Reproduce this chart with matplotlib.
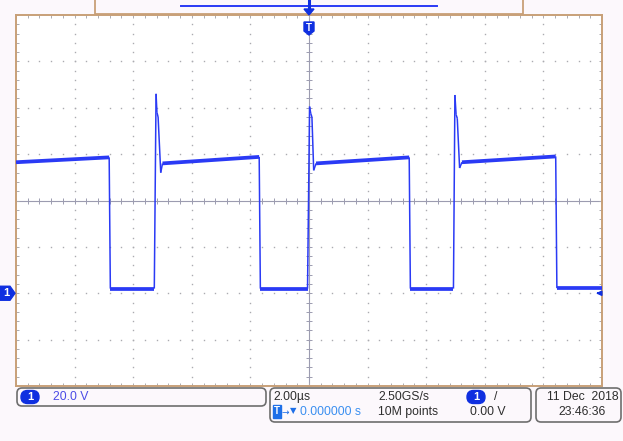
import numpy as np
import matplotlib
matplotlib.use("Agg")
import matplotlib.pyplot as plt
from matplotlib import transforms
from matplotlib.patches import FancyBboxPatch, Polygon, Rectangle
from matplotlib.collections import LineCollection

volts_per_div = 20.0          # V/div
time_per_div = 2.0            # us/div
ground_div = -2.0             # ground marker position (divisions from centre)

wave_t_us = [-10.0, -6.82, -6.78, -5.28,
             -5.22, -5.19, -5.15, -5.06, -5.00, -1.70, -1.66, -0.05,
             0.02, 0.06, 0.10, 0.16, 0.24, 3.42, 3.46, 4.93,
             4.98, 5.02, 5.06, 5.14, 5.22, 8.42, 8.46, 10.0]
wave_v = [56.5, 58.6, 2.0, 2.0,
          86.0, 78.0, 76.0, 52.0, 56.0, 58.8, 2.0, 2.0,
          80.5, 77.5, 76.0, 53.0, 56.0, 58.6, 2.0, 2.0,
          85.5, 77.0, 75.5, 54.0, 56.5, 59.0, 2.2, 2.2]

ch_label = "1"
ch_scale = "20.0 V"
time_scale = "2.00µs"
trig_pos = "0.000000 s"
sample_rate = "2.50GS/s"
record_len = "10M points"
trig_level = "0.00 V"
date_str = "11 Dec  2018"
time_str = "23:46:36"

# ---------------- styles ----------------
BG = "#FCF8FC"
TRACE = "#2A3AF5"
MARK = "#0F2FE0"
BORDER = "#C8A078"
GRIDC = "#ABABB0"
BOXC = "#6E6E6E"
TXT = "#2E2E2E"
FONT = ["Liberation Sans Narrow", "DejaVu Sans Condensed", "Liberation Sans", "DejaVu Sans"]
FS = 8.8

W, H = 623, 441
fig = plt.figure(figsize=(W / 100, H / 100), dpi=100, facecolor=BG)
# pixel transform: x right, y down, in image pixels
PX = transforms.Affine2D().scale(0.01, -0.01).translate(0, H / 100) + fig.dpi_scale_trans

L, R, T, B = 16, 602, 15, 386
ax = fig.add_axes([L / W, 1 - B / H, (R - L) / W, (B - T) / H])
ax.set_facecolor("white")

# scope axes: 10 x 8 divisions
centre_v = -ground_div * volts_per_div
ax.set_xlim(-5 * time_per_div, 5 * time_per_div)
ax.set_ylim(centre_v - 4 * volts_per_div, centre_v + 4 * volts_per_div)

for s in ax.spines.values():
    s.set_color(BORDER)
    s.set_linewidth(1.4)

ax.set_xticks(np.arange(-5, 6) * time_per_div)
ax.set_xticks(np.arange(-25, 26) * time_per_div / 5, minor=True)
ax.set_yticks(centre_v + np.arange(-4, 5) * volts_per_div)
ax.set_yticks(centre_v + np.arange(-20, 21) * volts_per_div / 5, minor=True)
ax.tick_params(which="both", direction="in", length=2.2, width=0.7, color=GRIDC,
               top=True, right=True, labelbottom=False, labelleft=False)

# dotted graticule
minor_x = np.arange(-25, 26) * time_per_div / 5
minor_y = centre_v + np.arange(-20, 21) * volts_per_div / 5
for d in range(-4, 5):
    if d == 0:
        continue
    xv = d * time_per_div
    ax.plot(np.full_like(minor_y, xv), minor_y, ls="", marker="s", ms=1.0, mew=0,
            color=GRIDC, zorder=1)
for d in range(-3, 4):
    if d == 0:
        continue
    yv = centre_v + d * volts_per_div
    ax.plot(minor_x, np.full_like(minor_x, yv), ls="", marker="s", ms=1.0, mew=0,
            color=GRIDC, zorder=1)
# centre cross-hair with ticks
ax.axvline(0, color="#9C9CB0", lw=0.8, zorder=1)
ax.axhline(centre_v, color="#9C9CB0", lw=0.8, zorder=1)
ax.plot(minor_x, np.full_like(minor_x, centre_v), ls="", marker="|", ms=4, mew=0.7,
        color="#9C9CB0", zorder=1)
ax.plot(np.zeros_like(minor_y), minor_y, ls="", marker="_", ms=4, mew=0.7,
        color="#9C9CB0", zorder=1)

# trace: flat (noisy) parts thicker than the fast edges
t = np.array(wave_t_us)
v = np.array(wave_v)
segs = np.stack([np.column_stack([t[:-1], v[:-1]]), np.column_stack([t[1:], v[1:]])], axis=1)
slope = np.abs(np.diff(v) / np.diff(t))
lws = np.where(slope < 5, 2.7, 1.1)
lc = LineCollection(segs, colors=TRACE, linewidths=lws, capstyle="butt", zorder=3)
ax.add_collection(lc)

# trigger level arrow on the right edge
ax.annotate("", xy=(9.7, 0), xytext=(10.0, 0),
            arrowprops=dict(arrowstyle="-|>", color=MARK, lw=1.2, mutation_scale=7),
            zorder=4, annotation_clip=False)

# ---------------- ground marker on the left ----------------
gpx = ax.transData.transform((0, 0.0))[1]
gy_img = H - gpx
fig.add_artist(Polygon([(0, gy_img - 7), (10, gy_img - 7), (15, gy_img),
                        (10, gy_img + 7), (0, gy_img + 7)], closed=True,
                       transform=PX, facecolor=MARK, edgecolor=MARK))
fig.text(6, gy_img, ch_label, transform=PX, color="white", fontsize=8,
         fontweight="bold", ha="center", va="center", family=FONT)

# ---------------- top record bar & trigger marker ----------------
fig.add_artist(Rectangle((95, -2), 428, 16, transform=PX, facecolor=BG,
                         edgecolor=BORDER, lw=1.3))
fig.add_artist(plt.Line2D([181, 437], [6, 6], transform=PX, color=TRACE, lw=1.4))
fig.add_artist(plt.Line2D([309, 309], [0, 10], transform=PX, color=MARK, lw=2.2))
fig.add_artist(Polygon([(304, 9), (314, 9), (309, 15)], closed=True, transform=PX,
                       facecolor=MARK, edgecolor=MARK))
fig.add_artist(Polygon([(304, 22), (314, 22), (314, 31), (309, 35), (304, 31)],
                       closed=True, transform=PX, facecolor=MARK, edgecolor=MARK))
fig.text(309, 28, "T", transform=PX, color="white", fontsize=7, fontweight="bold",
         ha="center", va="center", family=FONT)

# ---------------- bottom status boxes ----------------
def rbox(x0, y0, x1, y1):
    fig.add_artist(FancyBboxPatch((x0, y0), x1 - x0, y1 - y0,
                                  boxstyle="round,pad=0,rounding_size=5",
                                  transform=PX, facecolor=BG, edgecolor=BOXC, lw=1.2))

def pill(xc, yc, w, h, label):
    fig.add_artist(FancyBboxPatch((xc - w / 2, yc - h / 2), w, h,
                                  boxstyle="round,pad=0,rounding_size=%f" % (h / 2),
                                  transform=PX, facecolor=MARK, edgecolor=MARK))
    fig.text(xc, yc, label, transform=PX, color="white", fontsize=8, fontweight="bold",
             ha="center", va="center", family=FONT)

rbox(17, 388, 266, 406)
rbox(270, 388, 531, 422)
rbox(536, 388, 621, 422)

pill(30, 397, 18, 13, ch_label)
fig.text(53, 397, ch_scale, transform=PX, color="#4B4BE6", fontsize=FS,
         ha="left", va="center", family=FONT)

fig.text(273, 397, time_scale, transform=PX, color=TXT, fontsize=FS,
         ha="left", va="center", family=FONT)
fig.add_artist(Rectangle((273, 405), 8, 13, transform=PX, facecolor="#1E6FE8",
                         edgecolor="#1E6FE8"))
fig.text(277, 411.5, "T", transform=PX, color="white", fontsize=7, fontweight="bold",
         ha="center", va="center", family=FONT)
fig.text(282, 412, "→", transform=PX, color="#1E6FE8", fontsize=6.5,
         ha="left", va="center", family=["DejaVu Sans"])
fig.text(290, 411, "▼", transform=PX, color="#1E6FE8", fontsize=6,
         ha="left", va="center", family=["DejaVu Sans"])
fig.text(300, 412, trig_pos, transform=PX, color="#3A8FF0", fontsize=FS,
         ha="left", va="center", family=FONT)

fig.text(378, 397, sample_rate, transform=PX, color=TXT, fontsize=FS,
         ha="left", va="center", family=FONT)
fig.text(378, 412, record_len, transform=PX, color=TXT, fontsize=FS,
         ha="left", va="center", family=FONT)
pill(476, 397, 18, 13, ch_label)
fig.text(494, 397, "/", transform=PX, color=TXT, fontsize=FS,
         ha="left", va="center", family=FONT)
fig.text(470, 412, trig_level, transform=PX, color=TXT, fontsize=FS,
         ha="left", va="center", family=FONT)

fig.text(619, 397, date_str, transform=PX, color=TXT, fontsize=FS,
         ha="right", va="center", family=FONT)
fig.text(558, 412, time_str, transform=PX, color=TXT, fontsize=FS,
         ha="left", va="center", family=FONT)

fig.savefig("out.png", dpi=100, facecolor=BG)
